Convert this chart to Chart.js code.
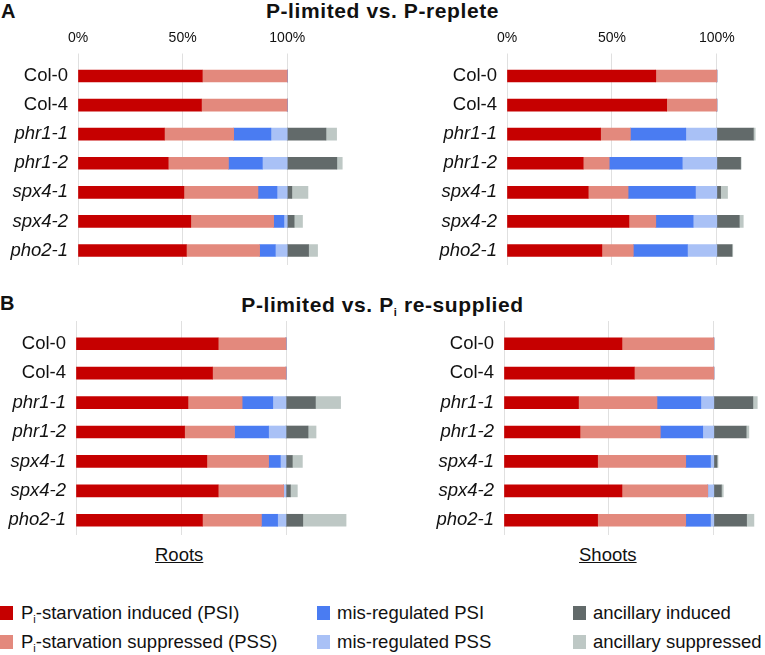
<!DOCTYPE html>
<html>
<head>
<meta charset="utf-8">
<script src="https://cdn.jsdelivr.net/npm/chart.js@4.4.0/dist/chart.umd.min.js"></script>
<style>
    body { margin: 0; width: 765px; height: 655px; position: relative; background: #fff; overflow: hidden;
           font-family: "Liberation Sans", Arial, sans-serif; color: #111; }
    canvas { position: absolute; }
    .t { position: absolute; white-space: nowrap; }
    .title { font-weight: bold; font-size: 21px; letter-spacing: 0.6px; left: 0; width: 765px; text-align: center; line-height: 21px; }
    .letter { font-weight: bold; font-size: 20px; line-height: 20px; }
    .under { font-size: 18.5px; text-decoration: underline; line-height: 20px; }
    .leg { font-size: 18.5px; line-height: 20px; }
    .sq { position: absolute; width: 13px; height: 14px; }
    sub { font-size: 11px; line-height: 0; vertical-align: -4px; }
</style>
</head>
<body>
<div class="t letter" style="left:1px; top:1px;">A</div>
<div class="t title" style="top:0px;">P-limited vs. P-replete</div>
<div class="t letter" style="left:0px; top:293px;">B</div>
<div class="t title" style="top:294px;">P-limited vs. P<sub>i</sub> re-supplied</div>

<canvas id="rootsA" width="350" height="241" style="left:0px; top:24px;"></canvas>
<canvas id="shootsA" width="353" height="241" style="left:410px; top:24px;"></canvas>
<canvas id="rootsB" width="349" height="214" style="left:0px; top:321px;"></canvas>
<canvas id="shootsB" width="350" height="214" style="left:410px; top:321px;"></canvas>

<div class="t under" style="left:155px; top:545px;">Roots</div>
<div class="t under" style="left:579px; top:545px;">Shoots</div>

<div class="sq" style="left:0px; top:606px; background:#c60000;"></div>
<div class="t leg" style="left:21px; top:603px;">P<sub>i</sub>-starvation induced (PSI)</div>
<div class="sq" style="left:0px; top:635px; background:#e3897d;"></div>
<div class="t leg" style="left:21px; top:632px;">P<sub>i</sub>-starvation suppressed (PSS)</div>
<div class="sq" style="left:317px; top:606px; background:#4a7cf2;"></div>
<div class="t leg" style="left:337px; top:603px;">mis-regulated PSI</div>
<div class="sq" style="left:317px; top:635px; background:#a9c1f6;"></div>
<div class="t leg" style="left:337px; top:632px;">mis-regulated PSS</div>
<div class="sq" style="left:573px; top:606px; background:#626a6a;"></div>
<div class="t leg" style="left:593px; top:603px;">ancillary induced</div>
<div class="sq" style="left:573px; top:635px; background:#bec8c5;"></div>
<div class="t leg" style="left:593px; top:632px;">ancillary suppressed</div>

<script>
const categories = ['Col-0', 'Col-4', 'phr1-1', 'phr1-2', 'spx4-1', 'spx4-2', 'pho2-1'];
const seriesNames = ['Pi-starvation induced (PSI)', 'Pi-starvation suppressed (PSS)', 'mis-regulated PSI',
    'mis-regulated PSS', 'ancillary induced', 'ancillary suppressed'];
const seriesColors = ['#c60000', '#e3897d', '#4a7cf2', '#a9c1f6', '#626a6a', '#bec8c5'];
const xTicks = [0, 50, 100];

// A: P-limited vs. P-replete, roots (percent of genes)
const rootsA_PSI    = [59.4, 59.0, 41.3, 43.1, 50.6, 53.9, 51.8];
const rootsA_PSS    = [40.6, 41.0, 33.1, 28.8, 35.4, 39.6, 35.0];
const rootsA_misPSI = [0, 0, 17.8, 16.2, 9.1, 4.9, 7.5];
const rootsA_misPSS = [0, 0, 7.8, 11.9, 4.9, 1.6, 5.7];
const rootsA_ancInd = [0, 0, 18.5, 23.7, 2.2, 3.3, 10.2];
const rootsA_ancSup = [0, 0, 5.1, 2.6, 7.7, 4.0, 4.3];

// A: shoots
const shootsA_PSI    = [70.9, 76.1, 44.6, 36.3, 38.7, 58.1, 45.2];
const shootsA_PSS    = [29.1, 23.9, 14.2, 12.4, 19.0, 12.8, 15.0];
const shootsA_misPSI = [0, 0, 26.4, 34.8, 32.1, 17.8, 25.8];
const shootsA_misPSS = [0, 0, 14.8, 16.5, 10.2, 11.3, 14.0];
const shootsA_ancInd = [0, 0, 17.4, 11.3, 1.8, 10.7, 7.2];
const shootsA_ancSup = [0, 0, 0.9, 0.3, 3.3, 1.9, 0.4];

// B: P-limited vs. Pi re-supplied, roots
const rootsB_PSI    = [67.7, 65.0, 53.3, 51.7, 62.3, 67.7, 60.2];
const rootsB_PSS    = [32.3, 35.0, 25.8, 23.8, 29.4, 31.2, 28.1];
const rootsB_misPSI = [0, 0, 14.6, 16.2, 5.6, 0, 7.7];
const rootsB_misPSS = [0, 0, 6.3, 8.3, 2.7, 1.1, 4.0];
const rootsB_ancInd = [0, 0, 14.0, 10.5, 3.0, 2.1, 8.0];
const rootsB_ancSup = [0, 0, 12.0, 3.8, 4.8, 3.3, 20.6];

// B: shoots
const shootsB_PSI    = [56.2, 62.1, 35.5, 36.2, 44.6, 56.2, 44.6];
const shootsB_PSS    = [43.8, 37.9, 37.4, 38.3, 42.0, 40.9, 42.0];
const shootsB_misPSI = [0, 0, 20.9, 20.2, 11.8, 0, 11.8];
const shootsB_misPSS = [0, 0, 6.2, 5.3, 1.6, 2.9, 1.6];
const shootsB_ancInd = [0, 0, 18.6, 15.4, 1.5, 3.6, 15.6];
const shootsB_ancSup = [0, 0, 2.1, 1.3, 0.5, 0.9, 3.5];

const family = '"Liberation Sans", Arial, sans-serif';

function drawPanel(id, values, yWidth, xMax, axisHeight, showTicks) {
    let ctx = document.getElementById(id);
    return new Chart(ctx, {
        type: 'bar',
        data: {
            labels: categories,
            datasets: values.map((v, i) => ({
                label: seriesNames[i],
                data: v,
                backgroundColor: seriesColors[i],
                borderWidth: 0,
                barThickness: 12,
            }))
        },
        options: {
            indexAxis: 'y',
            responsive: false,
            animation: false,
            layout: { padding: 0 },
            plugins: { legend: { display: false }, tooltip: { enabled: false } },
            scales: {
                x: {
                    position: 'top',
                    stacked: true,
                    min: 0,
                    max: xMax,
                    afterBuildTicks: s => { s.ticks = xTicks.map(v => ({ value: v })); },
                    afterFit: s => { s.height = axisHeight; },
                    border: { display: false },
                    grid: { color: '#e0e0e0', lineWidth: 1, drawTicks: true, tickLength: 8 },
                    ticks: {
                        display: showTicks,
                        padding: 7,
                        color: '#111',
                        font: { family: family, size: 14 },
                        callback: v => v + '%'
                    }
                },
                y: {
                    stacked: true,
                    // fixed label column, and no extra room above/below the rows
                    afterFit: s => { s.width = yWidth; s.paddingTop = 0; s.paddingBottom = 0; },
                    border: { display: false },
                    grid: { display: false, drawTicks: false },
                    ticks: {
                        padding: 10,
                        color: '#111',
                        font: c => ({ family: family, size: 18.5, style: c.index > 1 ? 'italic' : 'normal' })
                    }
                }
            }
        }
    });
}

drawPanel('rootsA', [rootsA_PSI, rootsA_PSS, rootsA_misPSI, rootsA_misPSS, rootsA_ancInd, rootsA_ancSup], 78, 130, 37.5, true);
drawPanel('shootsA', [shootsA_PSI, shootsA_PSS, shootsA_misPSI, shootsA_misPSS, shootsA_ancInd, shootsA_ancSup], 97, 122, 37.5, true);
drawPanel('rootsB', [rootsB_PSI, rootsB_PSS, rootsB_misPSI, rootsB_misPSS, rootsB_ancInd, rootsB_ancSup], 76, 130, 8, false);
drawPanel('shootsB', [shootsB_PSI, shootsB_PSS, shootsB_misPSI, shootsB_misPSS, shootsB_ancInd, shootsB_ancSup], 94, 122, 8, false);
</script>
</body>
</html>
